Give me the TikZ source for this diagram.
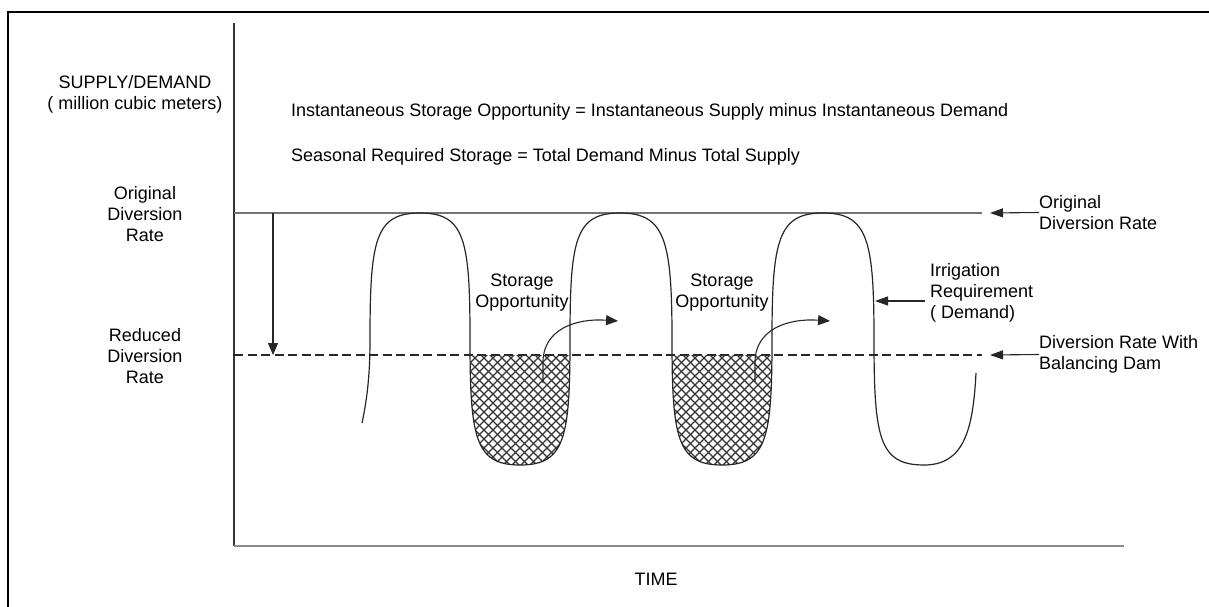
\documentclass[tikz,border=0pt]{standalone}
\usepackage{fontspec}
\setmainfont{Liberation Sans}
\usetikzlibrary{arrows.meta}
\begin{document}
\begin{tikzpicture}[x=1pt,y=-1pt,
  lbl/.style={inner sep=0pt,font=\fontsize{18}{21}\selectfont},
  curve/.style={line width=1.2pt,black!85},
  hatchline/.style={line width=1.1pt,black!80},
  arr/.style={line width=1.1pt,black!85,-{Triangle[length=13pt,width=9pt]}}]
\useasboundingbox (0,0) rectangle (1209,607);

% outer frame (open at right and bottom)
\draw[line width=2.7pt] (8,607) -- (8,12) -- (1209,12);

% axes
\coordinate (ytop) at (234,23);
\coordinate (O) at (234,546);
\coordinate (xend) at (1124,546);
\draw[line width=1.2pt,black!80] (ytop) -- (O);
\draw[line width=2pt,black!45] (O) -- (xend);

% original and reduced diversion rates
\coordinate (orgL) at (234,213);
\coordinate (orgR) at (982,213);
\coordinate (redL) at (234,355);
\coordinate (redR) at (982,355);
\draw[line width=1.5pt,black!55] (orgL) -- (orgR);
\draw[line width=1.2pt,black!85,dash pattern=on 9pt off 4.5pt] (redL) -- (redR);

% storage opportunity: cross-hatched troughs under the reduced rate
\foreach \t in {520,722}{
  \begin{scope}
    \clip (234,355) rectangle (1000,500);
    \clip (\t-50,339) .. controls (\t-50,438) and (\t-45,465) .. (\t,465)
          .. controls (\t+45,465) and (\t+50,438) .. (\t+50,339) -- cycle;
    \foreach \k in {-22,...,22}{
      \draw[hatchline] (\t+\k*9,340) -- ++(140,140);
      \draw[hatchline] (\t+\k*9,340) -- ++(-140,140);
    }
  \end{scope}
}

% irrigation requirement (demand)
\draw[curve] (362,423) .. controls (368,395) and (370,370) .. (370,339)
  .. controls (370,240) and (375,213) .. (420,213)
  .. controls (465,213) and (470,240) .. (470,339)
  .. controls (470,438) and (475,465) .. (520,465)
  .. controls (565,465) and (570,438) .. (570,339)
  .. controls (570,240) and (575,213) .. (620,213)
  .. controls (665,213) and (672,240) .. (672,339)
  .. controls (672,438) and (677,465) .. (722,465)
  .. controls (767,465) and (772,438) .. (772,339)
  .. controls (772,240) and (778,213) .. (823,213)
  .. controls (868,213) and (874,240) .. (874,339)
  .. controls (874,438) and (879,465) .. (924,465)
  .. controls (964,465) and (973,430) .. (976,373);

% reduction arrow
\coordinate (dropA) at (273,213);
\coordinate (dropB) at (273,355);
\draw[arr,-{Triangle[length=12pt,width=10pt]}] (dropA) -- (dropB);

% axis labels
\node[lbl,align=center] (ylab) at (135,94) {SUPPLY/DEMAND\\( million cubic meters)};
\node[lbl] (time) at (656,579) {TIME};
\node[lbl,align=center] (orig) at (145,214) {Original\\Diversion\\Rate};
\node[lbl,align=center] (reduced) at (145,356) {Reduced\\Diversion\\Rate};

% definitions
\node[lbl,anchor=west] (eq1) at (291,112) {Instantaneous Storage Opportunity = Instantaneous Supply minus Instantaneous Demand};
\node[lbl,anchor=west] (eq2) at (291,157) {Seasonal Required Storage = Total Demand Minus Total Supply};

% storage opportunity labels and arrows
\node[lbl,align=center] (store1) at (522,292.5) {Storage\\Opportunity};
\node[lbl,align=center] (store2) at (722,292.5) {Storage\\Opportunity};
\coordinate (s1a) at (543,383);
\coordinate (s1b) at (618,321);
\coordinate (s2a) at (755,382);
\coordinate (s2b) at (830,321);
\draw[arr,-{Triangle[length=12pt,width=10pt]}] (s1a) -- (543,362) .. controls (543,330) and (575,318) .. (s1b);
\draw[arr,-{Triangle[length=12pt,width=10pt]}] (s2a) -- (755,362) .. controls (755,330) and (787,318) .. (s2b);

% right-hand labels with pointers
\node[lbl,align=left,anchor=west] (origR) at (1039,212.5) {Original\\Diversion Rate};
\node[lbl,align=left,anchor=west] (damR) at (1039,354.5) {Diversion Rate With\\Balancing Dam};
\node[lbl,align=left,anchor=west] (irr) at (930,292.5) {Irrigation\\Requirement\\( Demand)};
\coordinate (origTip) at (990,213);
\coordinate (damTip) at (990,355);
\coordinate (irrTip) at (875,301);
\coordinate (irrTail) at (925,301);
\draw[arr] (origR.west) -- (origTip);
\draw[arr] (damR.west) -- (damTip);
\draw[arr] (irrTail) -- (irrTip);
\end{tikzpicture}
\end{document}
